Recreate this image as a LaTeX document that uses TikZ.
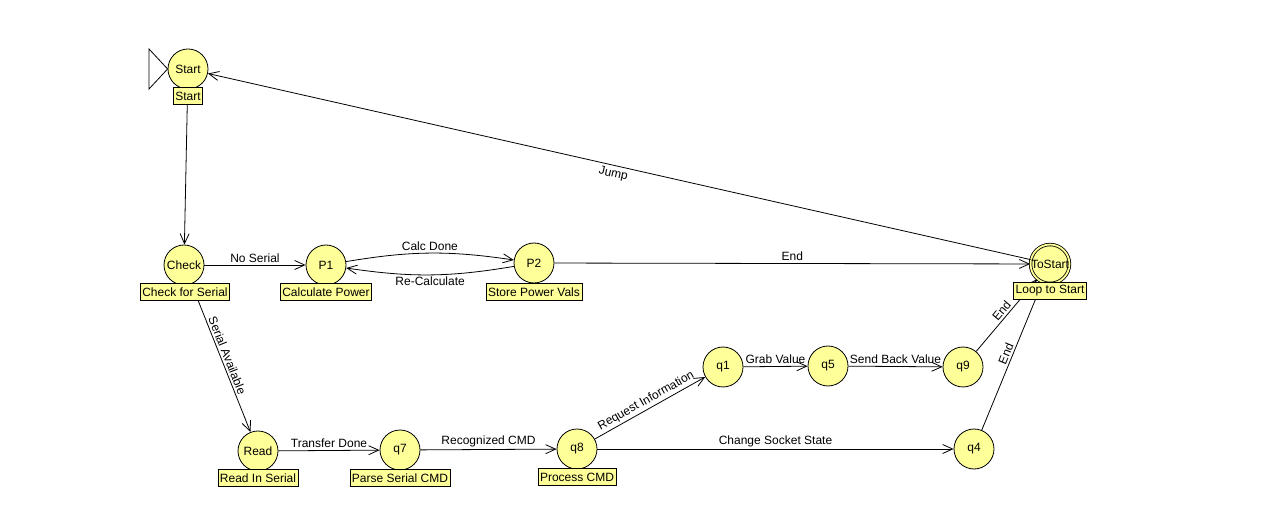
\documentclass[tikz,border=0pt]{standalone}
\usepackage{fontspec}
\setmainfont{Liberation Sans}
\usetikzlibrary{arrows.meta}
\definecolor{stfill}{RGB}{255,255,153}
\begin{document}
\begin{tikzpicture}[x=1pt,y=1pt,
  state/.style={circle,draw=black,fill=stfill,line width=0.8pt,minimum size=40pt,inner sep=0pt,font=\fontsize{12}{14}\selectfont},
  acc/.style={state,double=stfill,double distance=1.8pt,minimum size=36pt},
  tag/.style={draw=black,fill=stfill,line width=0.8pt,inner sep=2pt,minimum height=17pt,font=\fontsize{12}{14}\selectfont},
  elab/.style={font=\fontsize{12}{14}\selectfont,inner sep=2pt},
  tr/.style={-{Straight Barb[length=10pt,width=9pt,line width=0.8pt]},line width=0.8pt,black}]
\fill[white] (0,0) rectangle (1266,-510);
\useasboundingbox (0,0) rectangle (1266,-510);

% states
\node[state] (start) at (188,-69) {Start};
\node[state] (check) at (184,-265) {Check};
\node[state] (p1) at (326,-265) {P1};
\node[state] (p2) at (534,-263) {P2};
\node[acc] (tostart) at (1050,-264) {ToStart};
\node[state] (read) at (258,-451) {Read};
\node[state] (q7) at (400,-450) {q7};
\node[state] (q8) at (577,-449) {q8};
\node[state] (q1) at (723,-367) {q1};
\node[state] (q5) at (828,-366) {q5};
\node[state] (q9) at (963,-367) {q9};
\node[state] (q4) at (974,-449) {q4};

% initial marker
\coordinate (i1) at (149,-49);
\coordinate (i2) at (149,-89);
\draw[line width=0.8pt] (i1) -- (start.west) -- (i2) -- cycle;

% transitions
\draw[tr] (start) -- (check);
\draw[tr] (check) -- node[elab,above] {No Serial} (p1);
\draw[tr] (p1) to[bend left=9] node[elab,above] {Calc Done} (p2);
\draw[tr] (p2) to[bend left=9] node[elab,below] {Re-Calculate} (p1);
\draw[tr] (p2) -- node[elab,above] {End} (tostart);
\draw[tr] (tostart) -- node[elab,below=1pt,sloped,pos=0.505] {Jump} (start);
\draw[tr] (check) -- node[elab,above,sloped] {Serial Available} (read);
\draw[tr] (read) -- node[elab,above] {Transfer Done} (q7);
\draw[tr] (q7) -- node[elab,above] {Recognized CMD} (q8);
\draw[tr] (q8) -- node[elab,above,sloped] {Request Information} (q1);
\draw[tr] (q8) -- node[elab,above] {Change Socket State} (q4);
\draw[tr] (q1) -- node[elab,above] {Grab Value} (q5);
\draw[tr] (q5) -- node[elab,above] {Send Back Value} (q9);
\draw[tr] (q9) -- node[elab,above,sloped] {End} (tostart);
\draw[tr] (q4) -- node[elab,above,sloped] {End} (tostart);

% state tags
\node[tag] (tstart) at (188,-96) {Start};
\node[tag] (tcheck) at (185,-292) {Check for Serial};
\node[tag] (tp1) at (326,-292) {Calculate Power};
\node[tag] (tp2) at (534,-292) {Store Power Vals};
\node[tag] (tto) at (1050,-291) {Loop to Start};
\node[tag] (tread) at (258,-478) {Read In Serial};
\node[tag] (tq7) at (400,-478) {Parse Serial CMD};
\node[tag] (tq8) at (577,-477) {Process CMD};
\end{tikzpicture}
\end{document}
